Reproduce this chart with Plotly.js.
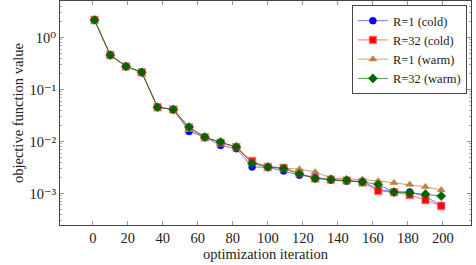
<!DOCTYPE html>
<html><head><meta charset="utf-8">
<script src="https://cdn.plot.ly/plotly-3.0.1.min.js"></script>
<style>html,body{margin:0;padding:0;background:#fff}#chart{width:476px;height:265px}</style>
</head><body><div id="chart"></div>
<script>
const iterations = [1,10,19,28,37,46,55,64,73,82,91,100,109,118,127,136,145,154,163,172,181,190,199];
const r1Cold  = [2.18,0.46,0.278,0.214,0.0456,0.0412,0.0156,0.0121,0.0084,0.00728,0.00323,0.00318,0.00271,0.00224,0.00208,0.0018,0.00172,0.00172,0.00119,0.00108,0.00107,0.000863,0.000589];
const r32Cold = [2.18,0.46,0.278,0.214,0.0456,0.0412,0.0185,0.0121,0.0095,0.00782,0.00421,0.00323,0.0031,0.00248,0.00194,0.00185,0.00178,0.00163,0.00112,0.00106,0.00093,0.000745,0.000571];
const r1Warm  = [2.18,0.46,0.278,0.214,0.0456,0.0412,0.0168,0.0121,0.0095,0.0079,0.0040,0.0033,0.0031,0.00292,0.00259,0.00199,0.0019,0.00185,0.00174,0.0016,0.00149,0.00134,0.00117];
const r32Warm = [2.18,0.46,0.278,0.214,0.0456,0.0412,0.0189,0.0121,0.00975,0.00782,0.00376,0.00323,0.00301,0.00237,0.00194,0.00185,0.0018,0.00167,0.00149,0.00106,0.00103,0.00097,0.00089];
const seriesNames = ['R=1 (cold)','R=32 (cold)','R=1 (warm)','R=32 (warm)'];
const yTickVals = [0.001,0.01,0.1,1];
const yTickText = ['10⁻³','10⁻²','10⁻¹','10⁰'];
const xTickVals = [0,20,40,60,80,100,120,140,160,180,200];

const styles = [
  {line:'rgba(0,0,255,0.55)', mk:'#0000ff', sym:'circle', size:7},
  {line:'rgba(255,0,0,0.55)', mk:'#ff0000', sym:'square', size:7},
  {line:'rgba(191,128,64,0.75)', mk:'#bf8040', sym:'triangle-up', size:7},
  {line:'rgba(0,110,0,0.7)', mk:'#006400', sym:'diamond', size:7}
];
const data = [r1Cold, r32Cold, r1Warm, r32Warm].map((ys,i)=>({
  x: iterations, y: ys, name: seriesNames[i], type:'scatter', mode:'lines+markers',
  line:{color:styles[i].line, width:1},
  marker:{color:styles[i].mk, symbol:styles[i].sym, size:styles[i].size,
          line:{color: i===1 ? 'rgba(255,90,90,0.6)' : styles[i].line, width: i===1 ? 1.5 : 0.8}}
}));
const fam = '"Liberation Serif", "DejaVu Serif", serif';
const txt = {family:fam, size:14.5, color:'#222'};
const layout = {
  width:476, height:265,
  margin:{l:60, r:5, t:1, b:40},
  paper_bgcolor:'#fff', plot_bgcolor:'#fff',
  font: txt,
  showlegend:true,
  legend:{x:0.99, y:0.982, xanchor:'right', yanchor:'top', bgcolor:'#fff',
          bordercolor:'#444', borderwidth:1, font:{family:fam, size:12.5, color:'#222'},
          tracegroupgap:0},
  xaxis:{range:[-18.7,216], tickvals:xTickVals, ticks:'inside', ticklen:4, tickcolor:'#999',
         showline:true, linecolor:'#444', linewidth:1, mirror:'allticks', showgrid:false, zeroline:false,
         title:{text:'optimization iteration', font:txt, standoff:2},
         tickfont:txt},
  yaxis:{type:'log', range:[Math.log10(2.47e-4), Math.log10(5.05)], tickvals:yTickVals, ticktext:yTickText,
         ticks:'inside', ticklen:4, tickcolor:'#999', showline:true, linecolor:'#444', linewidth:1,
         mirror:'allticks', showgrid:false, zeroline:false,
         minor:{ticks:'inside', ticklen:2, tickcolor:'#aaa', dtick:'D1', showgrid:false},
         title:{text:'objective function value', font:txt, standoff:2},
         tickfont:txt}
};
Plotly.newPlot('chart', data, layout, {displayModeBar:false, staticPlot:true});
</script></body></html>
